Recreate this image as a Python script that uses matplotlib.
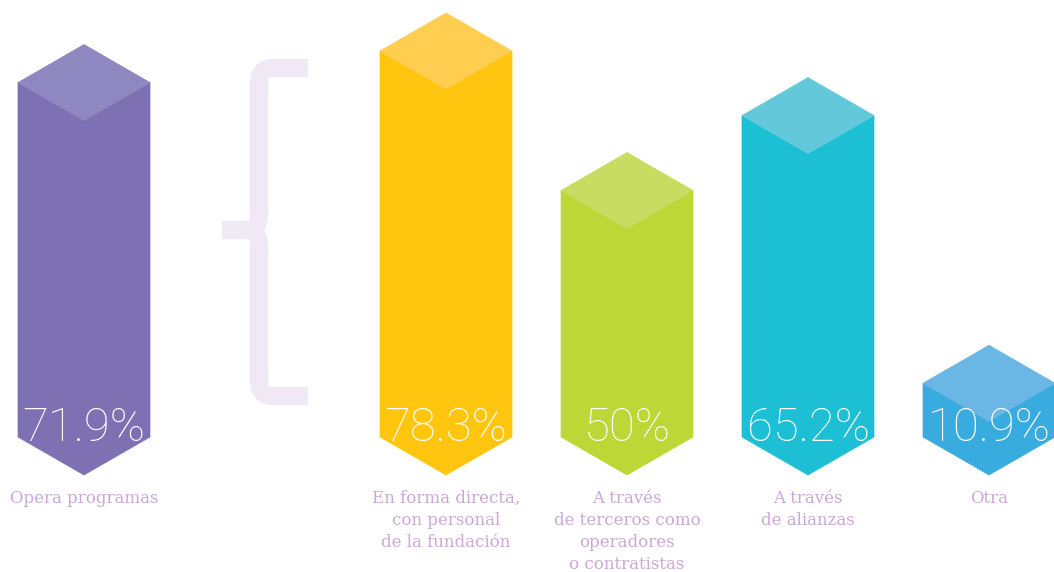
import matplotlib
matplotlib.use("Agg")
import matplotlib.pyplot as plt
from matplotlib.patches import Polygon, PathPatch
from matplotlib.path import Path

# data
categories = ["Opera programas",
              "En forma directa,\ncon personal\nde la fundación",
              "A través\nde terceros como\noperadores\no contratistas",
              "A través\nde alianzas",
              "Otra"]
values = [71.9, 78.3, 50, 65.2, 10.9]
slots = [0, 2, 3, 4, 5]
side_colors = ["#7D71B3", "#FFC50F", "#BDD836", "#1DBFD5", "#38ABDF"]
top_colors = ["#8F87C0", "#FFCD50", "#C9DC62", "#63C9DA", "#6AB6E4"]

W, H = 1054, 572
PX_X = 181.0   # pixels per slot
PX_Y = 4.93    # pixels per percentage point
HALF_W = 66 / PX_X
DIAM = 38 / PX_Y
LABEL_COLOR = "#CBA8D8"
BRACE_COLOR = "#F0E8F4"


def px(xp, yp):
    """pixel position (from top-left) -> data coords"""
    return (xp - 84) / PX_X, (475 - yp) / PX_Y


def draw_block(ax, c, v, side, top):
    left = [(c, 0), (c - HALF_W, DIAM), (c - HALF_W, v + DIAM), (c, v)]
    right = [(c, 0), (c, v), (c + HALF_W, v + DIAM), (c + HALF_W, DIAM)]
    lid = [(c, v), (c - HALF_W, v + DIAM), (c, v + 2 * DIAM), (c + HALF_W, v + DIAM)]
    for pts in (left, right):
        ax.add_patch(Polygon(pts, closed=True, fc=side, ec=side, lw=0.5))
    ax.add_patch(Polygon(lid, closed=True, fc=top, ec=top, lw=0.5))


def draw_brace(ax):
    r = 14
    xv, yt, yb, xe = 259, 68, 396, 308
    ym, xn = 230, 222
    pts = [(xe, yt), (xv + r, yt), (xv, yt), (xv, yt + r),
           (xv, ym - r), (xv, ym), (xv - r, ym), (xn, ym),
           (xv - r, ym), (xv, ym), (xv, ym + r),
           (xv, yb - r), (xv, yb), (xv + r, yb), (xe, yb)]
    codes = [Path.MOVETO, Path.LINETO, Path.CURVE3, Path.CURVE3,
             Path.LINETO, Path.CURVE3, Path.CURVE3, Path.LINETO,
             Path.MOVETO, Path.CURVE3, Path.CURVE3,
             Path.LINETO, Path.CURVE3, Path.CURVE3, Path.LINETO]
    verts = [px(x, y) for x, y in pts]
    ax.add_patch(PathPatch(Path(verts, codes), fill=False, ec=BRACE_COLOR,
                           lw=13, joinstyle="round", capstyle="butt"))


fig = plt.figure(figsize=(W / 100, H / 100), dpi=100)
ax = fig.add_axes([0, 0, 1, 1])
x0, y0 = px(0, H)
x1, y1 = px(W, 0)
ax.set_xlim(x0, x1)
ax.set_ylim(y0, y1)
ax.axis("off")

draw_brace(ax)

for c, v, cat, sc, tc in zip(slots, values, categories, side_colors, top_colors):
    draw_block(ax, c, v, sc, tc)
    ax.text(c, 9.6, f"{v:g}%", ha="center", va="center", color="white",
            fontsize=34, fontfamily="Roboto", fontweight="light")
    ax.text(c, -3.0, cat, ha="center", va="top", color=LABEL_COLOR,
            fontsize=12, fontfamily="DejaVu Serif", linespacing=1.38)

fig.savefig("out.png", dpi=100)
